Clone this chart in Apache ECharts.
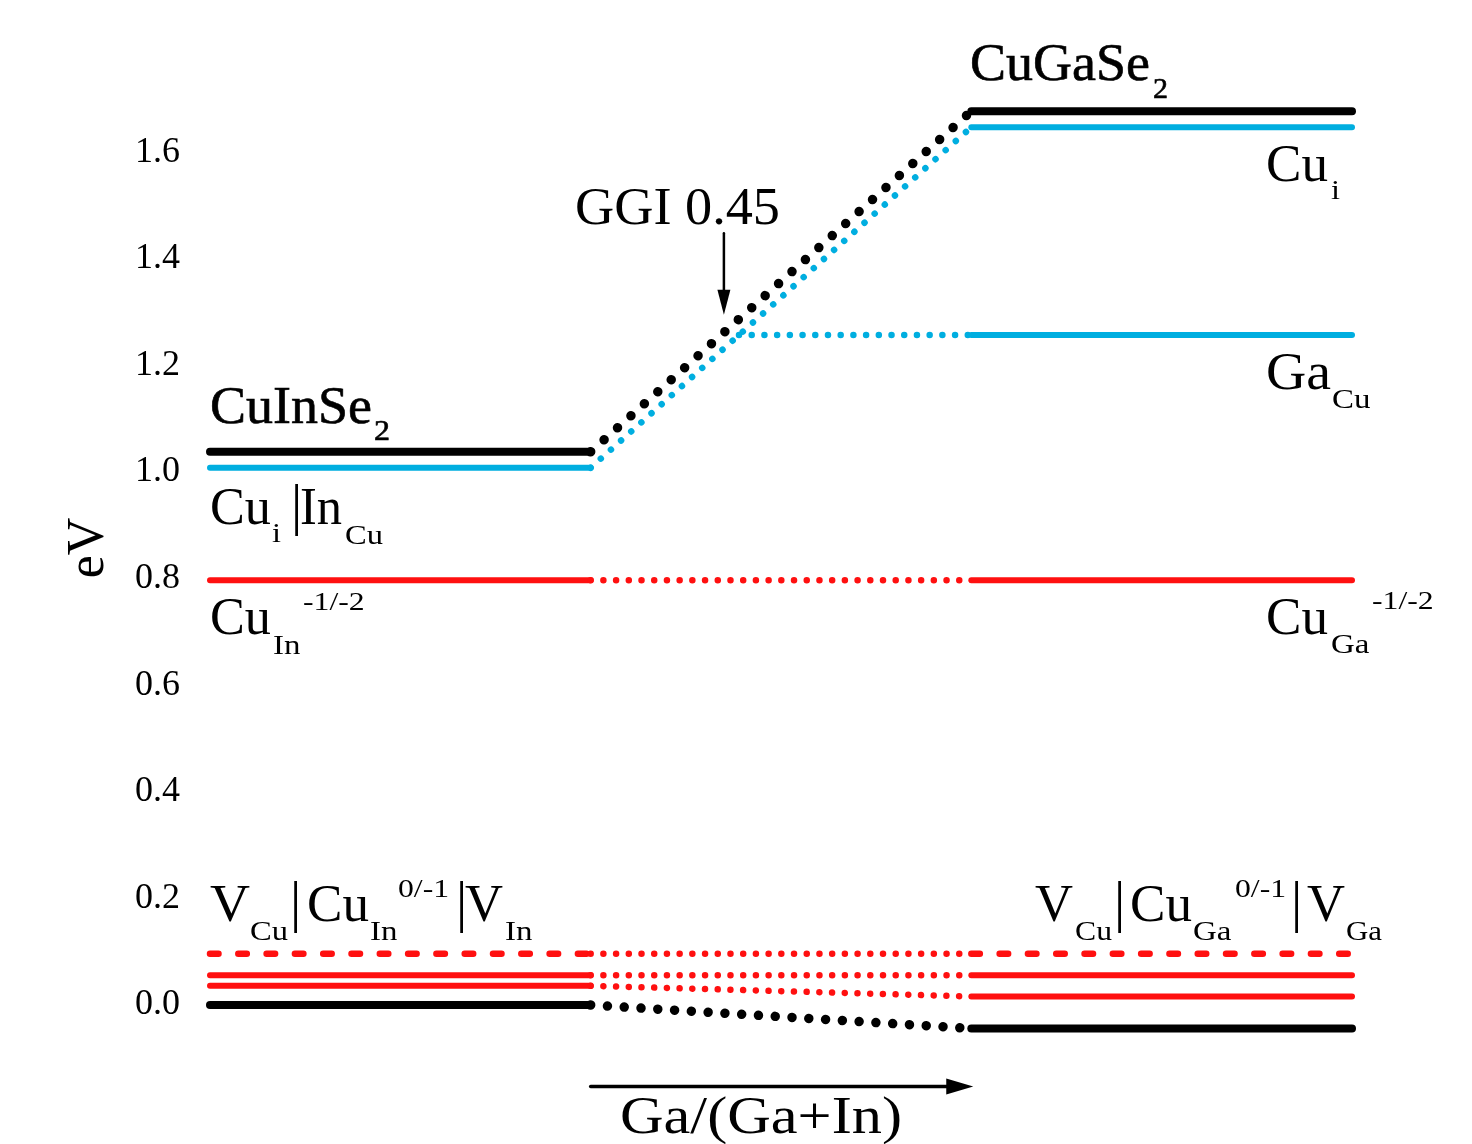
<!DOCTYPE html>
<html><head><meta charset="utf-8">
<script src="https://cdn.jsdelivr.net/npm/echarts@6/dist/echarts.min.js"></script>
<style>html,body{margin:0;padding:0;background:#fff}#c{width:1472px;height:1144px}</style>
</head><body><div id="c"></div>
<script>
// ---- data ----
// x positions: CuInSe2 block [-1,0], transition [0,1], CuGaSe2 block [1,2]
const blockX = [-1, 0, 1, 2];
const yTickValues = [0, 0.2, 0.4, 0.6, 0.8, 1.0, 1.2, 1.4, 1.6];
// levels (eV): CBM, Cu_i, Ga_Cu, Cu_III(-1/-2), V/Cu_III (0/-1) dashed, level 2, level 3, VBM
const levelNames = ['CBM', 'Cu_i', 'Ga_Cu', 'Cu_III', 'V_III', 'Cu_III(0/-1)', 'V_Cu', 'VBM'];
const cisLevels = [1.038, 1.008, null, 0.797, 0.096, 0.056, 0.036, 0.0];
const cgsLevels = [1.677, 1.647, 1.257, 0.797, 0.096, 0.056, 0.016, -0.044];
// arrows [x0, y0, x1, y1]
const ggiArrow = [0.35, 1.448, 0.35, 1.295];
const compArrow = [0.0, -0.153, 1.005, -0.153];

// ---- styles ----
const K = '#000000', B = '#00AEE0', R = '#FF1010';
const levelStyle = [
  {color: K, w: 8, dotW: 9.5, gap: 18, z: 5},
  {color: B, w: 6, dotW: 6.5, gap: 13.6, z: 4},
  {color: B, w: 6, dotW: 6.5, gap: 12.7, z: 4},
  {color: R, w: 6, dotW: 6.5, gap: 12.7, z: 3},
  {color: R, w: 6.5, dash: [8.5, 19.8], dotW: 6.5, gap: 12.7, z: 3},
  {color: R, w: 6, dotW: 6.5, gap: 12.7, z: 3},
  {color: R, w: 6, dotW: 6.5, gap: 12.7, z: 3},
  {color: K, w: 8, dotW: 9.5, gap: 16.8, z: 5}
];

const series = [];
function seg(x0, y0, x1, y1, color, width, type, z) {
  series.push({
    type: 'line', data: [[x0, y0], [x1, y1]], symbol: 'none', clip: false, silent: true,
    z: z, animation: false,
    lineStyle: {color: color, width: width, type: type, cap: 'round', join: 'round', opacity: 1}
  });
}
for (let i = 0; i < levelNames.length; i++) {
  const s = levelStyle[i];
  const a = cisLevels[i], b = cgsLevels[i];
  const solidType = s.dash ? s.dash : 'solid';
  if (a !== null) seg(blockX[0], a, blockX[1], a, s.color, s.w, solidType, s.z);
  seg(blockX[2], b, blockX[3], b, s.color, s.w, solidType, s.z);
  let xs = blockX[1], ys = a;
  if (a === null) { // starts where it leaves the Cu_i transition line
    const t = (b - cisLevels[1]) / (cgsLevels[1] - cisLevels[1]);
    xs = blockX[1] + t * (blockX[2] - blockX[1]);
    ys = b;
  }
  seg(xs, ys, blockX[2], b, s.color, s.dotW, [0.01, s.gap], s.z);
}

function arrowSeries(arr, lw, hl, hw) {
  return {
    type: 'custom', coordinateSystem: 'cartesian2d', data: [arr], silent: true, z: 6, animation: false,
    renderItem: function (params, api) {
      const p0 = api.coord([api.value(0), api.value(1)]);
      const p1 = api.coord([api.value(2), api.value(3)]);
      const dx = p1[0] - p0[0], dy = p1[1] - p0[1];
      const L = Math.sqrt(dx * dx + dy * dy);
      const ux = dx / L, uy = dy / L, nx = -uy, ny = ux;
      const bx = p1[0] - ux * hl, by = p1[1] - uy * hl;
      return {type: 'group', children: [
        {type: 'line', shape: {x1: p0[0], y1: p0[1], x2: bx + ux * 2, y2: by + uy * 2},
         style: {stroke: '#000', lineWidth: lw, lineCap: 'round'}},
        {type: 'polygon', shape: {points: [[p1[0], p1[1]], [bx + nx * hw / 2, by + ny * hw / 2], [bx - nx * hw / 2, by - ny * hw / 2]]},
         style: {fill: '#000'}}
      ]};
    }
  };
}
series.push(arrowSeries(ggiArrow, 2.5, 25, 13));
series.push(arrowSeries(compArrow, 3.5, 27, 16));

// ---- text ----
const FONT = '"Liberation Serif", "Times New Roman", serif';
const mctx = document.createElement('canvas').getContext('2d');
function T(s, x, base, size, w, extra) {
  mctx.font = size + 'px ' + FONT;
  const mw = mctx.measureText(s).width;
  let sx = 1;
  if (w) sx = Math.max(0.85, Math.min(1.22, w / mw));
  const el = {
    type: 'text', x: x, y: base - 0.34 * size, scaleX: sx, silent: true, z: 10,
    style: {text: s, font: size + 'px ' + FONT, fill: '#000', align: 'left', verticalAlign: 'middle',
            textAlign: 'left', textVerticalAlign: 'middle'}
  };
  if (extra) Object.assign(el.style, extra);
  return el;
}
const M = 52, S = 27, P = 26;
const bold = {stroke: '#000', lineWidth: 0.6};
const texts = [
  T('CuInSe', 210, 427, M, 162, bold), T('2', 374, 442, 29, 16, bold),
  T('Cu', 210, 528, M, 61), T('i', 272, 544, S, 9), T('|', 291, 528, 56), T('In', 300, 528, M, 42), T('Cu', 345, 546, S, 38),
  T('Cu', 210, 638, M, 61), T('In', 273, 656, S, 28), T('-1/-2', 303, 612, P, 65),
  T('CuGaSe', 970, 84, M, 180, bold), T('2', 1153, 100, 29, 15, bold),
  T('Cu', 1266, 185, M, 62), T('i', 1331, 201, S, 9),
  T('Ga', 1266, 393, M, 65), T('Cu', 1332, 410, S, 39),
  T('Cu', 1266, 638, M, 62), T('Ga', 1331, 655, S, 39), T('-1/-2', 1372, 611, P, 69),
  T('V', 210, 925, M, 40), T('Cu', 250, 942, S, 38), T('|', 290, 925, 56), T('Cu', 307, 925, M, 62),
  T('In', 370, 942, S, 28), T('0/-1', 398, 899, P, 55), T('|', 456, 925, 56), T('V', 465, 925, M, 38), T('In', 505, 942, S, 30),
  T('V', 1035, 925, M, 38), T('Cu', 1075, 942, S, 37), T('|', 1114, 925, 56), T('Cu', 1130, 925, M, 62),
  T('Ga', 1193, 942, S, 40), T('0/-1', 1235, 899, P, 55), T('|', 1291, 925, 56), T('V', 1307, 925, M, 38), T('Ga', 1346, 942, S, 36),
  T('GGI 0.45', 575, 228, M, 205),
  T('Ga/(Ga+In)', 620, 1137, M, 282),
  {type: 'text', x: 89, y: 548, rotation: Math.PI / 2, silent: true, z: 10,
   style: {text: 'eV', font: M + 'px ' + FONT, fill: '#000', align: 'center', verticalAlign: 'middle',
           textAlign: 'center', textVerticalAlign: 'middle'}}
];

const chart = echarts.init(document.getElementById('c'), null, {renderer: 'canvas'});
chart.setOption({
  animation: false,
  backgroundColor: '#ffffff',
  grid: {left: 210, right: 120, top: 45.6, bottom: 32.4, containLabel: false},
  xAxis: {type: 'value', min: -1, max: 2, show: false},
  yAxis: {
    type: 'value', min: -0.2, max: 1.8, interval: 0.2,
    axisLine: {show: false}, axisTick: {show: false}, splitLine: {show: false},
    axisLabel: {
      margin: 30, fontFamily: FONT, fontSize: 36, color: '#000',
      formatter: function (v) {
        for (const t of yTickValues) if (Math.abs(v - t) < 1e-6) return t.toFixed(1);
        return '';
      }
    }
  },
  series: series,
  graphic: texts
});
</script></body></html>
